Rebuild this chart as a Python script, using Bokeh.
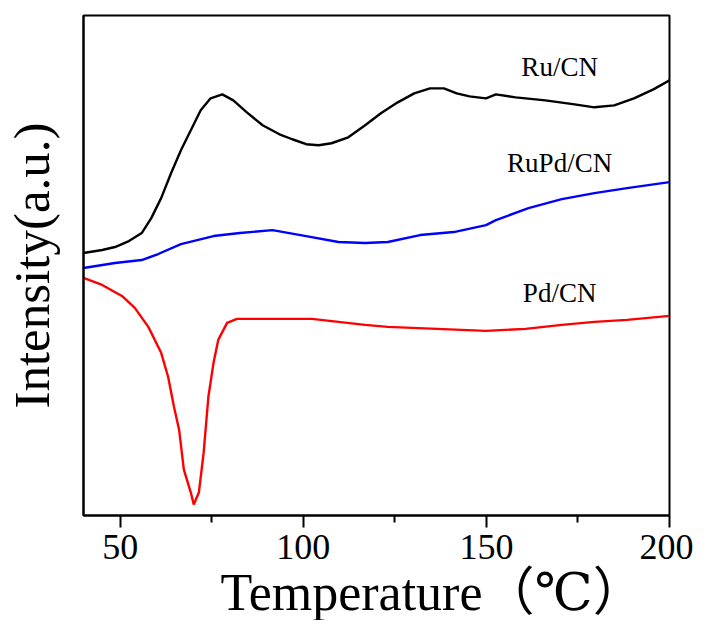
from bokeh.plotting import figure
from bokeh.models import Range1d, FixedTicker, Title
from bokeh.core.properties import value
from bokeh.embed import file_html
from bokeh.resources import INLINE

# ---- data ----
ru_T = [40.0, 45.1, 48.6, 52.4, 55.9, 58.5, 61.2, 63.9, 66.6, 69.3, 72.0, 74.7, 77.9,
        80.9, 84.6, 88.9, 93.5, 97.0, 100.8, 104.2, 107.7, 112.3, 116.9, 121.2, 125.8,
        130.3, 134.6, 138.4, 141.9, 145.4, 149.9, 152.6, 158.0, 166.1, 174.1, 179.5,
        184.9, 190.3, 195.6, 200.0]
ru_I = [2.63, 2.66, 2.69, 2.75, 2.83, 2.98, 3.18, 3.43, 3.66, 3.86, 4.06, 4.18, 4.22,
        4.16, 4.04, 3.91, 3.82, 3.77, 3.72, 3.71, 3.73, 3.79, 3.91, 4.03, 4.14,
        4.23, 4.28, 4.28, 4.23, 4.20, 4.18, 4.22, 4.19, 4.16, 4.12, 4.09,
        4.11, 4.18, 4.27, 4.36]

rupd_T = [40.0, 48.6, 55.9, 60.4, 66.6, 75.5, 82.7, 91.6, 100.8, 109.6, 116.9, 123.1,
          131.9, 141.1, 149.9, 152.6, 161.5, 170.6, 179.5, 188.4, 200.0]
rupd_I = [2.48, 2.53, 2.56, 2.62, 2.72, 2.80, 2.83, 2.86, 2.80, 2.74, 2.73, 2.74,
          2.81, 2.84, 2.91, 2.96, 3.08, 3.17, 3.23, 3.28, 3.34]

pd_T = [40.0, 45.1, 50.5, 54.0, 57.7, 61.2, 63.1, 64.7, 66.1, 67.4, 69.3, 70.1, 71.5,
        72.8, 74.1, 75.5, 76.8, 79.2, 81.9, 93.5, 102.4, 109.6, 116.9, 123.1, 136.5,
        149.9, 160.7, 170.6, 179.5, 188.4, 200.0]
pd_I = [2.38, 2.31, 2.20, 2.08, 1.89, 1.63, 1.39, 1.09, 0.86, 0.46, 0.23, 0.11, 0.23,
        0.63, 1.19, 1.53, 1.76, 1.93, 1.97, 1.97, 1.97, 1.94, 1.91, 1.89, 1.87,
        1.85, 1.87, 1.91, 1.94, 1.96, 2.00]

labels = ["Ru/CN", "RuPd/CN", "Pd/CN"]
label_T = [170, 170, 170]
label_I = [4.49, 3.53, 2.23]

x_major = [50, 100, 150, 200]
x_minor = [75, 125, 175]

SERIF = "Liberation Serif"
SERIF_CJK = "'Liberation Serif', 'DejaVu Serif', 'Noto Sans CJK SC', serif"

p = figure(width=693, height=620, x_range=Range1d(40, 200), y_range=Range1d(0, 5.01),
           output_backend="svg", toolbar_location=None,
           min_border_left=81, min_border_right=24, min_border_top=15, min_border_bottom=104)
p.background_fill_color = "white"
p.border_fill_color = "white"
p.outline_line_color = "black"
p.outline_line_width = 2
p.grid.visible = False

p.line(ru_T, ru_I, line_color="black", line_width=2.4)
p.line(rupd_T, rupd_I, line_color="#0000ff", line_width=2.4)
p.line(pd_T, pd_I, line_color="#ff0000", line_width=2.4)

p.text(x=label_T, y=label_I, text=labels, text_font=value(SERIF), text_font_size="27px",
       text_align="center", text_baseline="middle", text_color="black")

xa = p.xaxis[0]
xa.ticker = FixedTicker(ticks=x_major, minor_ticks=x_minor)
xa.axis_line_width = 2
xa.major_tick_line_width = 2
xa.minor_tick_line_width = 2
xa.major_tick_out = 12
xa.major_tick_in = 0
xa.minor_tick_out = 7
xa.minor_tick_in = 0
xa.major_label_text_font = SERIF
xa.major_label_text_font_size = "36px"
xa.major_label_standoff = 7
xa.major_label_text_color = "black"

ya = p.yaxis[0]
ya.ticker = FixedTicker(ticks=[])
ya.axis_line_width = 2
ya.major_tick_line_color = None
ya.minor_tick_line_color = None
ya.major_label_text_font_size = "0px"
ya.axis_label = "Intensity(a.u.)"
ya.axis_label_text_font = SERIF
ya.axis_label_text_font_size = "51px"
ya.axis_label_text_font_style = "normal"
ya.axis_label_text_color = "black"
ya.axis_label_standoff = 24

xtitle = Title(text="Temperature（℃）", align="left", offset=137, standoff=0,
               text_font=SERIF_CJK, text_font_size="52px", text_font_style="normal",
               text_color="black")
p.add_layout(xtitle, "below")

open("out.html", "w").write(file_html(p, INLINE))
